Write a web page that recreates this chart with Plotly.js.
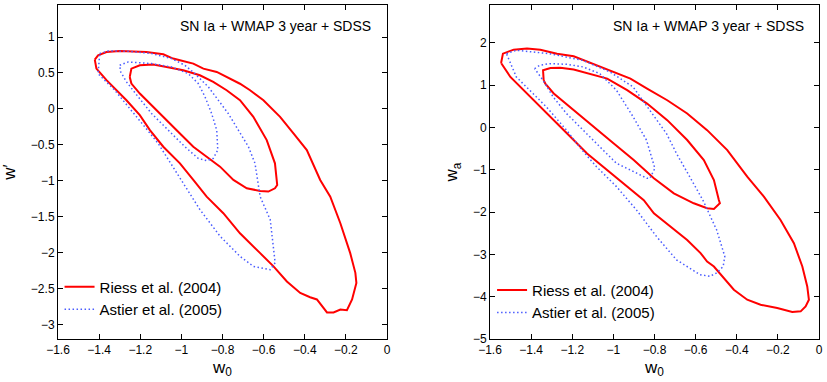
<!DOCTYPE html>
<html>
<head>
<meta charset="utf-8">
<script src="https://cdn.plot.ly/plotly-3.0.1.min.js"></script>
<style>
  html, body { margin: 0; padding: 0; background: #fff; }
  #plotArea { width: 827px; height: 382px; }
</style>
</head>
<body>
<div id="plotArea"></div>
<script>
// left panel: w0 vs w'
var riessOuterW0 = [-1.421, -1.413, -1.364, -1.267, -1.202, -1.153, -1.088, -1.007, -0.942, -0.877, -0.796, -0.715, -0.617, -0.552, -0.487, -0.422, -0.374, -0.341, -0.292, -0.26, -0.227, -0.195, -0.17, -0.149, -0.154, -0.179, -0.227, -0.276, -0.325, -0.39, -0.455, -0.52, -0.601, -0.666, -0.715, -0.78, -0.828, -0.893, -0.942, -1.007, -1.04, -1.088, -1.17, -1.30, -1.364, -1.405, -1.421];
var riessOuterWp = [0.685, 0.56, 0.40, 0.12, -0.087, -0.295, -0.526, -0.757, -0.988, -1.22, -1.45, -1.73, -2.006, -2.19, -2.40, -2.56, -2.62, -2.65, -2.83, -2.83, -2.79, -2.80, -2.65, -2.42, -2.28, -2.006, -1.59, -1.22, -0.988, -0.572, -0.341, -0.11, 0.12, 0.26, 0.35, 0.445, 0.514, 0.56, 0.63, 0.676, 0.70, 0.76, 0.79, 0.806, 0.79, 0.745, 0.685];

var riessInnerW0 = [-1.251, -1.243, -1.202, -1.137, -1.072, -0.991, -0.910, -0.845, -0.780, -0.715, -0.650, -0.585, -0.545, -0.534, -0.545, -0.577, -0.617, -0.682, -0.747, -0.812, -0.877, -0.942, -1.007, -1.072, -1.137, -1.202, -1.243, -1.251];
var riessInnerWp = [0.445, 0.56, 0.607, 0.616, 0.584, 0.538, 0.468, 0.376, 0.26, 0.121, -0.11, -0.434, -0.757, -1.058, -1.104, -1.150, -1.141, -1.104, -0.988, -0.803, -0.665, -0.526, -0.341, -0.156, 0.029, 0.214, 0.353, 0.445];

var astierOuterW0 = [-1.397, -1.356, -1.25, -1.145, -1.048, -0.983, -0.934, -0.869, -0.772, -0.674, -0.642, -0.617, -0.568, -0.552, -0.544, -0.568, -0.65, -0.715, -0.812, -0.91, -0.991, -1.064, -1.113, -1.178, -1.243, -1.324, -1.405, -1.397];
var astierOuterWp = [0.77, 0.806, 0.80, 0.77, 0.70, 0.607, 0.49, 0.306, -0.064, -0.526, -0.757, -1.22, -1.54, -1.91, -2.14, -2.237, -2.19, -2.05, -1.77, -1.40, -1.035, -0.688, -0.48, -0.249, -0.017, 0.26, 0.49, 0.77];

var astierInnerW0 = [-1.30, -1.259, -1.145, -1.048, -0.966, -0.918, -0.885, -0.853, -0.828, -0.823, -0.845, -0.877, -0.918, -0.983, -1.064, -1.145, -1.21, -1.267, -1.295, -1.30];
var astierInnerWp = [0.607, 0.653, 0.63, 0.584, 0.49, 0.353, 0.168, -0.064, -0.295, -0.572, -0.688, -0.72, -0.688, -0.526, -0.295, -0.064, 0.168, 0.376, 0.514, 0.607];

// right panel: w0 vs wa
var riessOuterW0b = [-1.546, -1.537, -1.485, -1.42, -1.355, -1.274, -1.193, -1.112, -0.998, -0.917, -0.836, -0.738, -0.641, -0.544, -0.446, -0.349, -0.268, -0.187, -0.122, -0.081, -0.057, -0.049, -0.065, -0.089, -0.13, -0.203, -0.284, -0.349, -0.414, -0.511, -0.544, -0.576, -0.641, -0.722, -0.803, -0.852, -0.933, -0.982, -1.063, -1.128, -1.225, -1.322, -1.42, -1.501, -1.546];
var riessOuterWa = [1.52, 1.74, 1.835, 1.86, 1.835, 1.74, 1.68, 1.52, 1.31, 1.15, 0.916, 0.64, 0.327, -0.066, -0.537, -1.166, -1.637, -2.187, -2.737, -3.287, -3.758, -4.072, -4.229, -4.347, -4.363, -4.269, -4.19, -4.072, -3.836, -3.287, -3.17, -2.97, -2.66, -2.34, -2.03, -1.72, -1.40, -1.205, -0.89, -0.616, -0.145, 0.327, 0.80, 1.19, 1.52];

var riessInnerW0b = [-1.339, -1.342, -1.306, -1.258, -1.193, -1.128, -1.03, -0.933, -0.836, -0.738, -0.641, -0.56, -0.511, -0.487, -0.482, -0.511, -0.544, -0.609, -0.706, -0.803, -0.901, -0.998, -1.095, -1.193, -1.29, -1.331, -1.339];
var riessInnerWa = [1.112, 1.35, 1.40, 1.41, 1.364, 1.285, 1.152, 0.877, 0.562, 0.17, -0.30, -0.773, -1.244, -1.716, -1.794, -1.928, -1.912, -1.794, -1.559, -1.205, -0.773, -0.38, 0.013, 0.405, 0.80, 1.034, 1.112];

var astierOuterW0b = [-1.52, -1.472, -1.31, -1.147, -1.017, -0.904, -0.823, -0.742, -0.693, -0.628, -0.565, -0.498, -0.458, -0.466, -0.498, -0.531, -0.579, -0.693, -0.79, -0.888, -0.985, -1.082, -1.15, -1.228, -1.326, -1.391, -1.472, -1.52];
var astierOuterWa = [1.74, 1.82, 1.74, 1.58, 1.31, 0.955, 0.405, -0.145, -0.616, -1.166, -1.716, -2.42, -3.05, -3.287, -3.44, -3.52, -3.48, -3.13, -2.58, -1.95, -1.40, -0.93, -0.55, -0.066, 0.484, 0.80, 1.19, 1.74];

var astierInnerW0b = [-1.383, -1.358, -1.31, -1.228, -1.147, -1.066, -0.985, -0.904, -0.839, -0.798, -0.823, -0.836, -0.90, -0.985, -1.066, -1.147, -1.228, -1.293, -1.342, -1.383];
var astierInnerWa = [1.387, 1.466, 1.505, 1.49, 1.427, 1.27, 0.877, 0.25, -0.30, -0.97, -1.205, -1.205, -1.05, -0.85, -0.459, -0.066, 0.327, 0.72, 1.112, 1.387];

var legendNames = ["Riess et al. (2004)", "Astier et al. (2005)"];
var panelLabel = "SN Ia + WMAP 3 year + SDSS";

var redLine = {color: "#ff0000", width: 2};
var blueLine = {color: "#4a5cff", width: 1.5, dash: "1.5px,2.5px"};

function contour(x, y, line, name, xa, ya, leg, show) {
    return {
        x: x, y: y, type: "scatter", mode: "lines",
        line: line, name: name, xaxis: xa, yaxis: ya,
        legend: leg, showlegend: show, hoverinfo: "skip"
    };
}

var data = [
    contour(riessOuterW0, riessOuterWp, redLine, legendNames[0], "x", "y", "legend", true),
    contour(riessInnerW0, riessInnerWp, redLine, legendNames[0], "x", "y", "legend", false),
    contour(astierOuterW0, astierOuterWp, blueLine, legendNames[1], "x", "y", "legend", true),
    contour(astierInnerW0, astierInnerWp, blueLine, legendNames[1], "x", "y", "legend", false),
    contour(riessOuterW0b, riessOuterWa, redLine, legendNames[0], "x2", "y2", "legend2", true),
    contour(riessInnerW0b, riessInnerWa, redLine, legendNames[0], "x2", "y2", "legend2", false),
    contour(astierOuterW0b, astierOuterWa, blueLine, legendNames[1], "x2", "y2", "legend2", true),
    contour(astierInnerW0b, astierInnerWa, blueLine, legendNames[1], "x2", "y2", "legend2", false)
];

var tickFont = {family: "Liberation Sans, Arial, sans-serif", size: 12, color: "#000"};
var titleFont = {family: "Liberation Sans, Arial, sans-serif", size: 17, color: "#000"};

function axisStyle(extra) {
    var a = {
        showgrid: false, zeroline: false, showline: true, linecolor: "#000", linewidth: 1,
        mirror: "ticks", ticks: "inside", ticklen: 5, tickcolor: "#000",
        tickfont: tickFont
    };
    for (var k in extra) a[k] = extra[k];
    return a;
}

var legendStyle = {
    font: {family: "Liberation Sans, Arial, sans-serif", size: 15, color: "#000"},
    bgcolor: "rgba(0,0,0,0)", borderwidth: 0, xanchor: "left", yanchor: "top",
    tracegroupgap: 0, itemwidth: 30
};

var layout = {
    width: 827, height: 382,
    margin: {l: 0, r: 0, t: 5, b: 43},
    paper_bgcolor: "#fff", plot_bgcolor: "#fff",
    xaxis: axisStyle({domain: [0.0701, 0.468], range: [-1.6, 0], dtick: 0.2, tick0: 0, anchor: "y",
        title: {text: "w<sub>0</sub>", font: titleFont, standoff: 4}}),
    yaxis: axisStyle({domain: [0, 1], range: [-3.2, 1.445], dtick: 0.5, tick0: 0, anchor: "x",
        title: {text: "w′", font: titleFont, standoff: 10}}),
    xaxis2: axisStyle({domain: [0.5925, 0.9903], range: [-1.6, 0], dtick: 0.2, tick0: 0, anchor: "y2",
        title: {text: "w<sub>0</sub>", font: titleFont, standoff: 4}}),
    yaxis2: axisStyle({domain: [0, 1], range: [-5, 2.89], dtick: 1, tick0: 0, anchor: "x2",
        title: {text: "w<sub>a</sub>", font: titleFont, standoff: 10}}),
    legend: Object.assign({x: 0.072, y: 0.205}, legendStyle),
    legend2: Object.assign({x: 0.595, y: 0.195}, legendStyle),
    annotations: [
        {text: panelLabel, xref: "paper", yref: "paper", x: 0.451, y: 0.937, xanchor: "right", yanchor: "middle",
         showarrow: false, font: {family: "Liberation Sans, Arial, sans-serif", size: 14, color: "#000"}},
        {text: panelLabel, xref: "paper", yref: "paper", x: 0.9746, y: 0.937, xanchor: "right", yanchor: "middle",
         showarrow: false, font: {family: "Liberation Sans, Arial, sans-serif", size: 14, color: "#000"}}
    ],
    showlegend: true
};

Plotly.newPlot("plotArea", data, layout, {staticPlot: true});
</script>
</body>
</html>
